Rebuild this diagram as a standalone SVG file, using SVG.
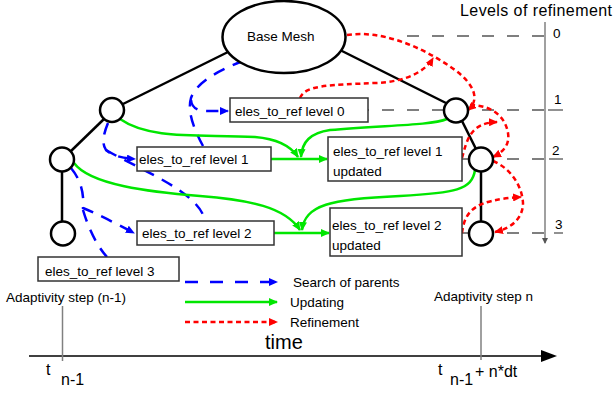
<svg xmlns="http://www.w3.org/2000/svg" width="616" height="394" viewBox="0 0 616 394">
<style>
text{font-family:"Liberation Sans",Arial,sans-serif;fill:#000}
.t{font-size:13.5px}
.tree{stroke:#000;stroke-width:2.5;fill:none}
.circ{stroke:#000;stroke-width:2.5;fill:#fff}
.box{stroke:#333;stroke-width:1.5;fill:#fff}
.lvl{stroke:#555;stroke-width:1.3;stroke-dasharray:12 13;fill:none}
.gray{stroke:#808080;stroke-width:1.5;fill:none}
.blue{stroke:#0000ff;stroke-width:2.5;stroke-dasharray:12 9;fill:none}
.green{stroke:#00e600;stroke-width:2.5;fill:none}
.red{stroke:#ff0000;stroke-width:2.5;stroke-dasharray:5 3.5;fill:none}
</style>
<defs>
<marker id="ab" markerUnits="userSpaceOnUse" markerWidth="9" markerHeight="8" refX="8" refY="4" orient="auto"><path d="M0,0 L9,4 L0,8 z" fill="#0000ff"/></marker>
<marker id="ag" markerUnits="userSpaceOnUse" markerWidth="9" markerHeight="8" refX="8" refY="4" orient="auto"><path d="M0,0 L9,4 L0,8 z" fill="#00e600"/></marker>
<marker id="ar" markerUnits="userSpaceOnUse" markerWidth="9" markerHeight="8" refX="8" refY="4" orient="auto"><path d="M0,0 L9,4 L0,8 z" fill="#ff0000"/></marker>
<marker id="ak" markerUnits="userSpaceOnUse" markerWidth="16" markerHeight="12" refX="1" refY="6" orient="auto"><path d="M0,0 L16,6 L0,12 z" fill="#000"/></marker>
<marker id="agr" markerUnits="userSpaceOnUse" markerWidth="6" markerHeight="6" refX="5" refY="3" orient="auto"><path d="M0,0 L6,3 L0,6 z" fill="#555"/></marker>
</defs>

<g id="refinement-axis">
<text x="460" y="16" font-size="16" textLength="152">Levels of refinement</text>
<line class="gray" x1="545" y1="22" x2="545" y2="243" marker-end="url(#agr)"/>
<text class="t" x="553" y="38">0</text>
<text class="t" x="554" y="104">1</text>
<text class="t" x="552" y="155">2</text>
<text class="t" x="555" y="229">3</text>
<line class="lvl" x1="407" y1="36" x2="545" y2="36"/>
<line class="lvl" x1="357" y1="110" x2="545" y2="110"/>
<line class="lvl" x1="457" y1="159" x2="545" y2="159"/>
<line class="lvl" x1="457" y1="233" x2="545" y2="233"/>
<line stroke="#555" stroke-width="1.3" x1="548" y1="110" x2="563" y2="110"/>
<line stroke="#555" stroke-width="1.3" x1="549" y1="159" x2="563" y2="159"/>
<line stroke="#555" stroke-width="1.3" x1="554" y1="233" x2="563" y2="233"/>
</g>

<g id="tree-edges">
<line class="tree" x1="228" y1="52" x2="123" y2="104"/>
<line class="tree" x1="104" y1="119" x2="71" y2="151"/>
<line class="tree" x1="62" y1="171" x2="62" y2="222"/>
<line class="tree" x1="340" y1="50" x2="446" y2="103"/>
<line class="tree" x1="462" y1="121" x2="476" y2="149"/>
<line class="tree" x1="481" y1="171" x2="481" y2="222"/>
</g>

<g id="connectors">
<path class="blue" d="M203 146 Q186 115 191 98 Q198 78 243 61"/>
<path class="blue" d="M191 100 Q192 112 210 111 L228 111" marker-end="url(#ab)"/>
<path class="blue" d="M108 123 Q100 142 106 150 Q115 158 135 159" marker-end="url(#ab)"/>
<path class="blue" d="M106 150 C140 170 200 192 205 221"/>
<path class="blue" d="M71 168 Q85 185 83 208 Q100 215 134 233" marker-end="url(#ab)"/>
<path class="blue" d="M83 210 Q92 240 107 257"/>

<path class="green" d="M120 119 C150 140 200 134 255 137 C280 139 292 148 298 157" marker-end="url(#ag)"/>
<path class="green" d="M447 119 C430 126 380 125 330 130 C310 133 302 142 301 157" marker-end="url(#ag)"/>
<path class="green" d="M271 159 L327 159" marker-end="url(#ag)"/>
<path class="green" d="M74 163 C90 185 150 192 200 196 C250 200 285 207 300 230" marker-end="url(#ag)"/>
<path class="green" d="M475 170 C472 190 455 193 400 196 C330 199 305 205 302 230" marker-end="url(#ag)"/>
<path class="green" d="M274 233 L329 233" marker-end="url(#ag)"/>

<path class="red" d="M347 35 C380 30 420 45 455 70 C475 85 480 100 468 110" marker-end="url(#ar)"/>
<path class="red" d="M300 98 C305 85 330 85 375 83 C405 82 425 72 433 58" marker-end="url(#ar)"/>
<path class="red" d="M470 105 C490 105 505 115 508 133 C510 145 503 152 493 157" marker-end="url(#ar)"/>
<path class="red" d="M462 158 C467 140 470 123 497 122" marker-end="url(#ar)"/>
<path class="red" d="M493 161 C510 168 522 185 523 203 C523 218 512 228 495 232" marker-end="url(#ar)"/>
<path class="red" d="M462 233 C465 210 475 200 521 197" marker-end="url(#ar)"/>
</g>

<g id="base-mesh">
<ellipse cx="284" cy="37" rx="61.5" ry="36" class="circ"/>
<text class="t" x="247" y="41">Base Mesh</text>
</g>
<g id="node-left-1"><circle class="circ" cx="112" cy="110" r="12"/></g>
<g id="node-left-2"><circle class="circ" cx="62" cy="159.5" r="12"/></g>
<g id="node-left-3"><circle class="circ" cx="63" cy="233.5" r="12"/></g>
<g id="node-right-1"><circle class="circ" cx="456" cy="110.5" r="12"/></g>
<g id="node-right-2"><circle class="circ" cx="481" cy="159.5" r="12"/></g>
<g id="node-right-3"><circle class="circ" cx="481" cy="233.5" r="12"/></g>

<g id="box-level0"><rect class="box" x="230" y="98" width="138" height="24"/><text class="t" x="235" y="116">eles_to_ref level 0</text></g>
<g id="box-level1"><rect class="box" x="137" y="147" width="134" height="24"/><text class="t" x="139" y="164">eles_to_ref level 1</text></g>
<g id="box-level1-updated"><rect class="box" x="328" y="137" width="134" height="44"/><text class="t" x="333" y="156">eles_to_ref level 1</text><text class="t" x="333" y="176">updated</text></g>
<g id="box-level2"><rect class="box" x="137" y="221" width="137" height="24"/><text class="t" x="142" y="238">eles_to_ref level 2</text></g>
<g id="box-level2-updated"><rect class="box" x="330" y="208" width="132" height="48"/><text class="t" x="332" y="230">eles_to_ref level 2</text><text class="t" x="332" y="250">updated</text></g>
<g id="box-level3"><rect class="box" x="38" y="257" width="141" height="24"/><text class="t" x="45" y="276">eles_to_ref level 3</text></g>

<g id="legend">
<line x1="185" y1="282" x2="277" y2="282" stroke="#0000ff" stroke-width="2.5" stroke-dasharray="13 12" marker-end="url(#ab)"/>
<text class="t" x="293" y="287">Search of parents</text>
<line class="green" x1="185" y1="302" x2="277" y2="302" marker-end="url(#ag)"/>
<text class="t" x="290" y="307">Updating</text>
<line class="red" x1="185" y1="322" x2="277" y2="322" marker-end="url(#ar)"/>
<text class="t" x="290" y="327">Refinement</text>
</g>

<g id="time-axis">
<line x1="29" y1="356" x2="542" y2="356" stroke="#000" stroke-width="1.5" marker-end="url(#ak)"/>
<line class="gray" x1="62.5" y1="306" x2="62.5" y2="361"/>
<line class="gray" x1="481" y1="306" x2="481" y2="360"/>
<text class="t" x="6" y="302">Adaptivity step (n-1)</text>
<text class="t" x="434" y="301">Adaptivity step n</text>
<text x="265" y="349" font-size="20">time</text>
<text x="46" y="375" font-size="16">t</text>
<text x="61" y="385" font-size="16">n-1</text>
<text x="438" y="375" font-size="16">t</text>
<text x="450" y="385" font-size="16">n-1</text>
<text x="475" y="377" font-size="16">+ n*dt</text>
</g>
</svg>
